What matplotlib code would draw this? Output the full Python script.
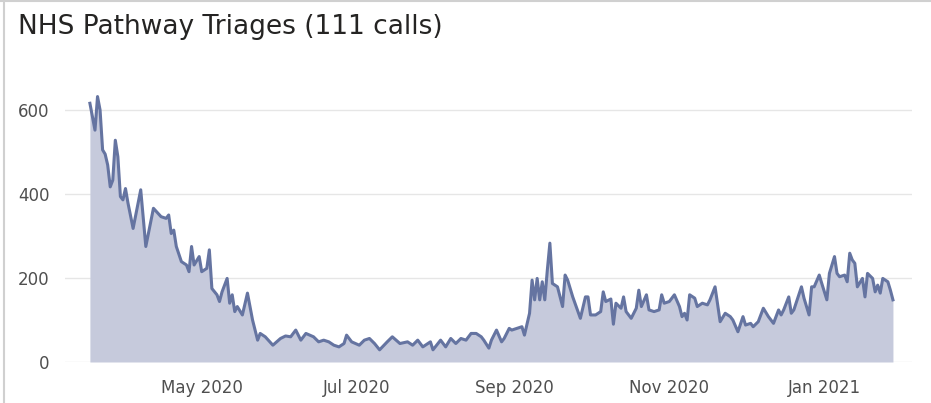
import pandas as pd
import matplotlib
matplotlib.use("Agg")
import matplotlib.pyplot as plt
import matplotlib.dates as mdates
from matplotlib.lines import Line2D

# -----------------------------
# Data
# -----------------------------
start_date = "2020-03-18"

# days since start_date
day = [0, 2, 3, 4, 5, 6, 7, 8, 9, 10, 11, 12, 13, 14, 15, 17, 20, 22, 25, 28,
       30, 31, 32, 33, 34, 36, 38, 39, 40, 41, 43, 44, 46, 47, 48, 50, 51, 52, 54, 55,
       56, 57, 58, 60, 62, 64, 66, 67, 69, 72, 75, 77, 79, 81, 83, 85, 88, 90, 92, 94,
       96, 98, 100, 101, 103, 106, 108, 110, 112, 114, 117, 119, 122, 125, 127, 129, 131, 134, 135, 138,
       140, 142, 144, 146, 148, 150, 152, 154, 155, 157, 158, 160, 162, 163, 165, 166, 168, 170, 171, 173,
       174, 175, 176, 177, 178, 179, 180, 181, 182, 184, 186, 187, 188, 190, 193, 195, 196, 197, 199, 201,
       202, 203, 205, 206, 207, 209, 210, 211, 213, 215, 216, 217, 219, 220, 222, 224, 225, 226, 228, 230,
       232, 233, 234, 235, 236, 238, 239, 241, 243, 244, 246, 248, 250, 252, 253, 255, 257, 258, 260, 261,
       263, 265, 267, 269, 271, 272, 273, 275, 276, 277, 280, 281, 283, 284, 285, 287, 288, 290, 291, 293,
       294, 295, 297, 298, 299, 300, 301, 302, 304, 305, 306, 308, 309, 310, 311, 312, 314, 315, 316]

calls = [616, 552, 632, 600, 505, 495, 469, 417, 433, 528, 489, 394, 386, 413, 378, 318, 410, 275, 366, 346,
         342, 350, 306, 314, 275, 239, 231, 215, 275, 231, 251, 215, 223, 267, 175, 160, 144, 167, 199, 140,
         160, 120, 132, 112, 164, 100, 52, 68, 60, 40, 56, 62, 60, 76, 52, 68, 60, 48, 52, 48,
         40, 36, 44, 64, 48, 40, 52, 56, 44, 29, 48, 60, 44, 48, 40, 52, 36, 48, 29, 52,
         36, 56, 44, 56, 52, 68, 68, 60, 52, 33, 52, 76, 48, 56, 80, 76, 80, 84, 64, 116,
         195, 148, 199, 148, 191, 148, 219, 283, 187, 179, 132, 207, 195, 155, 104, 155, 155, 112, 112, 120,
         167, 144, 150, 90, 140, 128, 155, 120, 104, 128, 171, 132, 160, 124, 120, 124, 160, 140, 144, 160,
         132, 108, 116, 100, 160, 152, 132, 140, 136, 148, 179, 96, 116, 108, 100, 72, 108, 88, 92, 84,
         96, 128, 108, 92, 124, 112, 124, 155, 116, 124, 179, 152, 112, 179, 179, 207, 187, 148, 211, 251,
         211, 203, 207, 191, 259, 243, 235, 179, 199, 155, 211, 199, 167, 183, 164, 199, 191, 171, 148]

month_ticks = ["2020-05-01", "2020-07-01", "2020-09-01", "2020-11-01", "2021-01-01"]
y_ticks = [0, 200, 400, 600]

# -----------------------------
# Plot
# -----------------------------
dates = pd.Timestamp(start_date) + pd.to_timedelta(day, unit="D")
df = pd.DataFrame({"date": dates, "calls": calls})

line_color = "#6574A1"
fill_color = "#C6CADC"
text_color = "#4F4F4F"

fig = plt.figure(figsize=(9.31, 4.03), dpi=100)
ax = fig.add_axes([65 / 931, 41 / 403, 847 / 931, 294 / 403])

ax.fill_between(df["date"], 0, df["calls"], color=fill_color, linewidth=0)
ax.plot(df["date"], df["calls"], color=line_color, linewidth=2.2, solid_joinstyle="round")

ax.set_xlim(df["date"].iloc[0] - pd.Timedelta(days=9.8),
            df["date"].iloc[-1] + pd.Timedelta(days=7.5))
ax.set_ylim(0, 700)

ax.set_yticks(y_ticks)
ax.set_xticks(pd.to_datetime(month_ticks))
ax.xaxis.set_major_formatter(mdates.DateFormatter("%b %Y"))

ax.grid(axis="y", color="#E6E6E6", linewidth=1)
ax.set_axisbelow(True)
for s in ax.spines.values():
    s.set_visible(False)
ax.tick_params(length=0, labelsize=12, labelcolor=text_color)
ax.tick_params(axis="y", pad=11)
ax.tick_params(axis="x", pad=12)

# title
fig.text(18 / 931, 1 - 27 / 403, "NHS Pathway Triages (111 calls)",
         fontsize=19, color="#252423", va="center", ha="left")

# light frame on top and left
fig.add_artist(Line2D([0, 1], [0.997, 0.997], color="#D0D0D0", linewidth=1.5))
fig.add_artist(Line2D([0.004, 0.004], [0, 1], color="#D0D0D0", linewidth=1.5))

fig.savefig("out.png", dpi=100)
